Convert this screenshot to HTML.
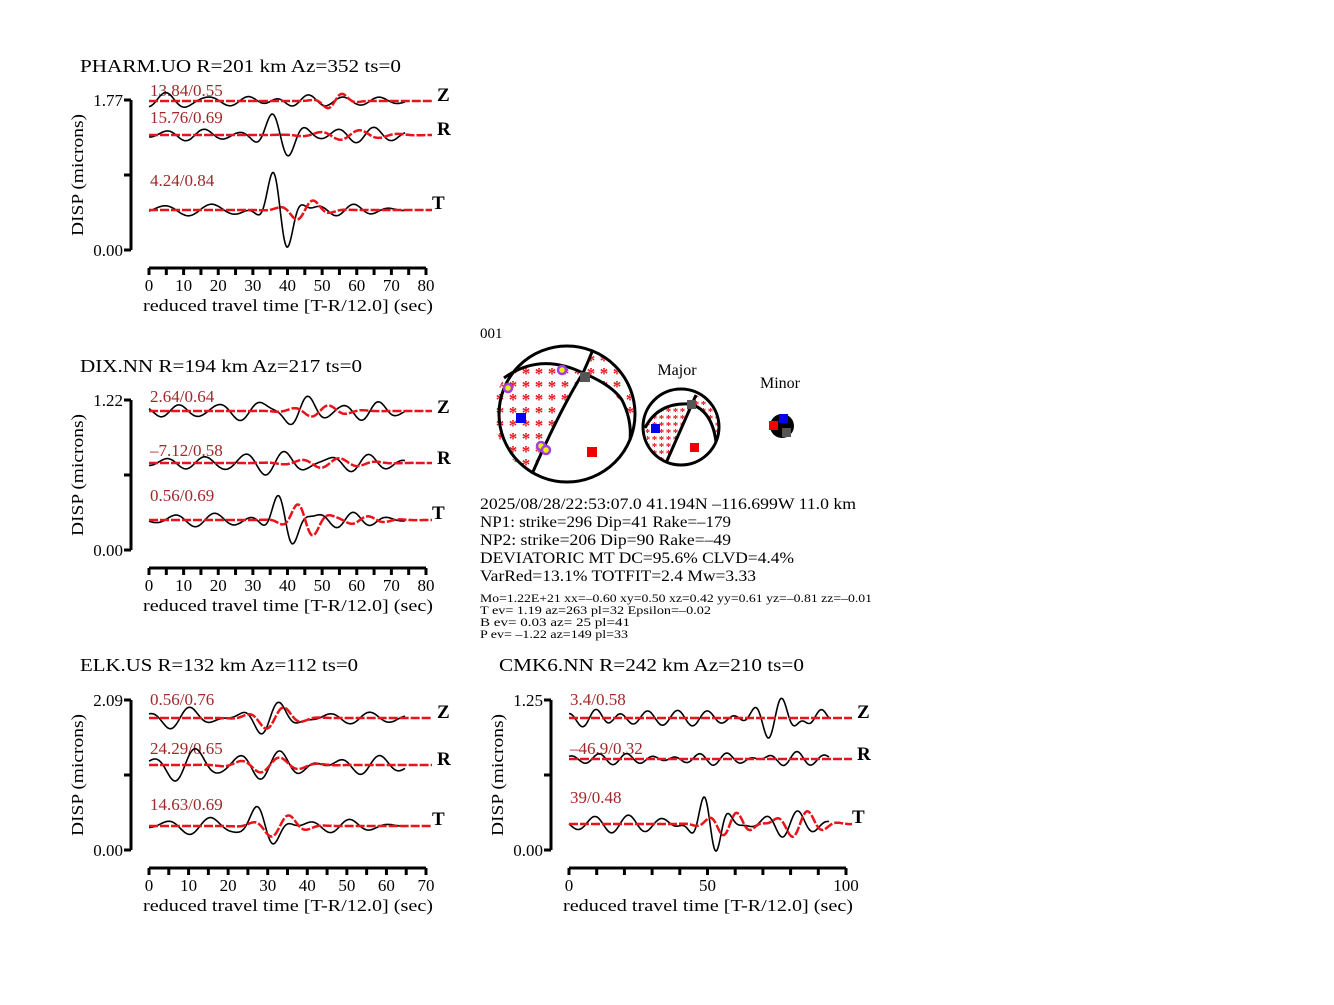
<!DOCTYPE html>
<html><head><meta charset="utf-8"><style>
body{margin:0;background:#fff}
svg text{font-family:"Liberation Serif",serif;}
</style></head><body>
<svg id="s" width="1334" height="1000" xmlns="http://www.w3.org/2000/svg">
<defs>
<pattern id="st1" width="13" height="13" patternUnits="userSpaceOnUse"><text x="6" y="15" font-size="17" font-weight="bold" fill="#e8141c" text-anchor="middle">*</text></pattern>
<pattern id="st2" width="7" height="7" patternUnits="userSpaceOnUse"><text x="3.5" y="9" font-size="11" font-weight="bold" fill="#e8141c" text-anchor="middle">*</text></pattern>
</defs>
<g font-size="18" fill="#000">
<text x="80" y="72" textLength="321" lengthAdjust="spacingAndGlyphs">PHARM.UO R=201 km Az=352 ts=0</text>
<text x="80" y="372" textLength="282" lengthAdjust="spacingAndGlyphs">DIX.NN R=194 km Az=217 ts=0</text>
<text x="80" y="671" textLength="278" lengthAdjust="spacingAndGlyphs">ELK.US R=132 km Az=112 ts=0</text>
<text x="499" y="671" textLength="305" lengthAdjust="spacingAndGlyphs">CMK6.NN R=242 km Az=210 ts=0</text>
</g>
<g font-size="17">
<text x="143" y="311" textLength="290" lengthAdjust="spacingAndGlyphs">reduced travel time [T-R/12.0] (sec)</text>
<text x="143" y="611" textLength="290" lengthAdjust="spacingAndGlyphs">reduced travel time [T-R/12.0] (sec)</text>
<text x="143" y="911" textLength="290" lengthAdjust="spacingAndGlyphs">reduced travel time [T-R/12.0] (sec)</text>
<text x="563" y="911" textLength="290" lengthAdjust="spacingAndGlyphs">reduced travel time [T-R/12.0] (sec)</text>
</g>
<g font-size="17" text-anchor="middle">
<text transform="translate(83,175) rotate(-90)" textLength="122" lengthAdjust="spacingAndGlyphs">DISP (microns)</text>
<text transform="translate(83,475) rotate(-90)" textLength="122" lengthAdjust="spacingAndGlyphs">DISP (microns)</text>
<text transform="translate(83,775) rotate(-90)" textLength="122" lengthAdjust="spacingAndGlyphs">DISP (microns)</text>
<text transform="translate(503,775) rotate(-90)" textLength="122" lengthAdjust="spacingAndGlyphs">DISP (microns)</text>
</g>
<g font-size="17" text-anchor="end">
<text x="123" y="106">1.77</text><text x="123" y="256">0.00</text>
<text x="123" y="406">1.22</text><text x="123" y="556">0.00</text>
<text x="123" y="706">2.09</text><text x="123" y="856">0.00</text>
<text x="543" y="706">1.25</text><text x="543" y="856">0.00</text>
</g>
<g font-size="17" fill="#a0282a">
<text x="150" y="96">13.84/0.55</text><text x="150" y="123">15.76/0.69</text><text x="150" y="186">4.24/0.84</text>
<text x="150" y="402">2.64/0.64</text><text x="150" y="456">–7.12/0.58</text><text x="150" y="501">0.56/0.69</text>
<text x="150" y="705">0.56/0.76</text><text x="150" y="754">24.29/0.65</text><text x="150" y="810">14.63/0.69</text>
<text x="570" y="705">3.4/0.58</text><text x="570" y="754">–46.9/0.32</text><text x="570" y="803">39/0.48</text>
</g>
<g font-size="19" font-weight="bold">
<text x="437" y="101">Z</text><text x="437" y="135">R</text><text x="432" y="209">T</text>
<text x="437" y="413">Z</text><text x="437" y="464">R</text><text x="432" y="519">T</text>
<text x="437" y="718">Z</text><text x="437" y="765">R</text><text x="432" y="825">T</text>
<text x="857" y="718">Z</text><text x="857" y="760">R</text><text x="852" y="823">T</text>
</g>
<g id="ticks" font-size="17" text-anchor="middle"></g>
<g id="waves"></g>
<text x="480" y="338" font-size="15">001</text>
<text x="677" y="375" font-size="16" text-anchor="middle">Major</text>
<text x="780" y="388" font-size="16" text-anchor="middle">Minor</text>
<g>
<circle cx="567" cy="414" r="68" fill="#fff"/>
<path d="M504,378 Q540,352 583,373 Q555,420 532,474 A68,68 0 0 1 504,378 Z" fill="url(#st1)"/>
<path d="M592,352 Q588,362 583,373 Q612,385 633,418 A68,68 0 0 0 592,352 Z" fill="url(#st1)"/>
<path d="M532,474 Q560,410 583,373 Q588,362 592,352" fill="none" stroke="#000" stroke-width="3"/>
<path d="M504,378 Q540,352 583,373" fill="none" stroke="#000" stroke-width="3"/>
<path d="M583,373 Q612,385 622,400 Q632,420 630,440" fill="none" stroke="#000" stroke-width="3"/>
<circle cx="567" cy="414" r="68" fill="none" stroke="#000" stroke-width="3"/>
<rect x="516" y="413" width="10" height="10" fill="#0000ee"/>
<rect x="587" y="447" width="10" height="10" fill="#ee0000"/>
<rect x="580" y="372" width="10" height="10" fill="#555"/>
<g fill="#ee0" stroke="#a040e0" stroke-width="2.5"><circle cx="508" cy="388" r="4"/><circle cx="562" cy="370" r="4"/><circle cx="541" cy="446" r="4"/><circle cx="546" cy="450" r="4"/></g>
<circle cx="681" cy="427" r="38" fill="#fff"/>
<path d="M646,425 Q660,400 690,404 L666,463 A38,38 0 0 1 646,425 Z" fill="url(#st2)"/>
<path d="M696,395 L690,404 Q712,410 717,440 A38,38 0 0 0 696,395 Z" fill="url(#st2)"/>
<path d="M666,463 L696,395" fill="none" stroke="#000" stroke-width="3"/>
<path d="M645,428 Q658,402 690,404 Q712,410 716,442" fill="none" stroke="#000" stroke-width="3"/>
<circle cx="681" cy="427" r="38" fill="none" stroke="#000" stroke-width="3"/>
<rect x="651" y="424" width="9" height="9" fill="#0000ee"/>
<rect x="690" y="443" width="9" height="9" fill="#ee0000"/>
<rect x="687" y="400" width="9" height="9" fill="#555"/>
<circle cx="782" cy="426" r="12" fill="#000"/>
<rect x="779" y="414" width="9" height="9" fill="#0000ee"/>
<rect x="769" y="421" width="9" height="9" fill="#ee0000"/>
<rect x="782" y="428" width="9" height="9" fill="#555"/>
</g>
<g font-size="16">
<text x="480" y="509" textLength="376" lengthAdjust="spacingAndGlyphs">2025/08/28/22:53:07.0 41.194N –116.699W 11.0 km</text>
<text x="480" y="527" textLength="251" lengthAdjust="spacingAndGlyphs">NP1: strike=296 Dip=41 Rake=–179</text>
<text x="480" y="545" textLength="251" lengthAdjust="spacingAndGlyphs">NP2: strike=206 Dip=90 Rake=–49</text>
<text x="480" y="563" textLength="314" lengthAdjust="spacingAndGlyphs">DEVIATORIC MT DC=95.6% CLVD=4.4%</text>
<text x="480" y="581" textLength="276" lengthAdjust="spacingAndGlyphs">VarRed=13.1% TOTFIT=2.4 Mw=3.33</text>
</g>
<g font-size="12">
<text x="480" y="602" textLength="392" lengthAdjust="spacingAndGlyphs">Mo=1.22E+21 xx=–0.60 xy=0.50 xz=0.42 yy=0.61 yz=–0.81 zz=–0.01</text>
<text x="480" y="614" textLength="231" lengthAdjust="spacingAndGlyphs">T ev=  1.19 az=263 pl=32 Epsilon=–0.02</text>
<text x="480" y="626" textLength="150" lengthAdjust="spacingAndGlyphs">B ev=  0.03 az= 25 pl=41</text>
<text x="480" y="638" textLength="148" lengthAdjust="spacingAndGlyphs">P ev= –1.22 az=149 pl=33</text>
</g>
</svg>
<script>
var NS="http://www.w3.org/2000/svg";
function el(p,t,a){var e=document.createElementNS(NS,t);for(var k in a)e.setAttribute(k,a[k]);p.appendChild(e);return e;}
var tk=document.getElementById('ticks'),wv=document.getElementById('waves');
function axes(dx,dy,max,step,lstep){
 el(tk,'line',{x1:131+dx,y1:100+dy,x2:131+dx,y2:250+dy,stroke:'#000','stroke-width':3});
 [100,175,250].forEach(function(y){el(tk,'line',{x1:124+dx,y1:y+dy,x2:131+dx,y2:y+dy,stroke:'#000','stroke-width':3});});
 el(tk,'line',{x1:149+dx,y1:268+dy,x2:426+dx,y2:268+dy,stroke:'#000','stroke-width':3});
 for(var v=0;v<=max+1e-6;v+=step){var x=149+dx+v/max*277;
  el(tk,'line',{x1:x,y1:268+dy,x2:x,y2:275+dy,stroke:'#000','stroke-width':3});
  if(Math.abs(v/lstep-Math.round(v/lstep))<1e-6){var t=el(tk,'text',{x:x,y:291+dy});t.textContent=v;}}
}
axes(0,0,80,5,10);axes(0,300,80,5,10);axes(0,600,70,5,10);axes(420,600,100,10,50);
function wave(x0,x1,y0,pk,red){var d='';for(var x=x0;x<=x1;x+=1){var y=y0;pk.forEach(function(p){var u=(x-p[0])/p[3];y-=p[1]*Math.exp(-u*u)*Math.sin(2*Math.PI*(x-p[0])/p[2]+(p[4]||0));});d+=(x==x0?'M':'L')+x+','+y.toFixed(1);}
 el(wv,'path',red?{d:d,fill:'none',stroke:'#e8141c','stroke-width':2.5,'stroke-dasharray':'9,2'}:{d:d,fill:'none',stroke:'#000','stroke-width':1.6});}
function tr(x0,y,blk,rd,end,rend){wave(x0,end,y,blk,false);wave(x0,rend,y,rd,true);}
tr(149,101,[[165,8,38,30,1.5],[240,5,40,50],[300,7,36,35],[370,4,38,40]],[[335,9,34,16]],405,432);
tr(149,135,[[195,6,38,45],[280,24,36,22,3.1],[365,8,36,45]],[[350,5,40,40]],405,432);
tr(149,210,[[200,6,48,60],[280,46,34,17,3.1],[345,6,36,40]],[[305,11,36,22]],405,432);
tr(149,411,[[170,6,36,40],[250,10,40,40],[300,16,36,25],[370,10,36,30]],[[320,6,36,30]],405,432);
tr(149,463,[[195,6,38,50],[275,12,38,40],[360,9,36,40]],[[330,5,38,40]],405,432);
tr(149,520,[[205,7,40,50],[285,30,34,18,3.1],[345,8,34,40]],[[305,18,34,20,3.1],[360,4,34,30]],405,432);
tr(149,718,[[180,12,42,30],[270,18,38,25],[360,6,40,50]],[[275,12,38,25]],405,432);
tr(149,765,[[185,18,44,30],[270,15,40,40],[370,10,40,40]],[[270,8,40,35]],405,432);
tr(149,826,[[200,9,44,40],[265,22,38,20,3.1],[340,7,40,40]],[[280,12,38,25]],405,432);
tr(569,718,[[590,10,30,25],[640,6,30,40],[700,7,30,40],[775,22,28,25],[815,10,28,20]],[],829,852);
tr(569,759,[[620,6,28,60],[720,7,28,60],[790,9,28,40]],[],829,852);
tr(569,824,[[620,9,34,60],[710,30,26,18,3.1],[790,14,32,30]],[[730,12,28,25],[800,14,32,25]],829,852);
</script>
</body></html>
